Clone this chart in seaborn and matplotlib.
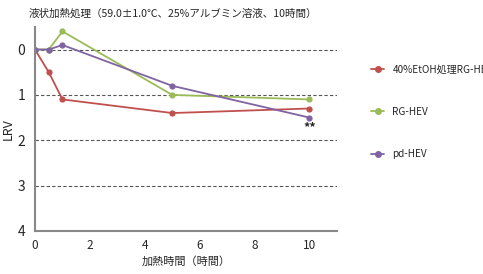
import pandas as pd
import seaborn as sns
import matplotlib.pyplot as plt

# data #######################################################################
hours = [0, 0.5, 1, 5, 10]
lrv_etoh = [0, 0.5, 1.1, 1.4, 1.3]
lrv_rg = [0, 0, -0.4, 1.0, 1.1]
lrv_pd = [0, 0, -0.1, 0.8, 1.5]
names = ['40%EtOH処理RG-HEV', 'RG-HEV', 'pd-HEV']
colors = ['#c0504d', '#9bbb59', '#8064a2']

df = pd.concat([
    pd.DataFrame({'hours': hours, 'lrv': vals, 'name': n})
    for n, vals in zip(names, [lrv_etoh, lrv_rg, lrv_pd])
], ignore_index=True)

sns.set_style('white')
plt.rcParams['font.family'] = ['Noto Sans CJK JP', 'DejaVu Sans']

fig = plt.figure(figsize=(4.83, 2.74), dpi=100)
ax = fig.add_axes([0.0725, 0.157, 0.625, 0.745])

sns.lineplot(
    data=df, x='hours', y='lrv', hue='name', hue_order=names,
    palette=colors, marker='o', markersize=4.5, markeredgewidth=0,
    linewidth=1.3, ax=ax, legend=False
)

for yv in [0, 1, 2, 3]:
    ax.axhline(yv, color='#555555', lw=0.8, ls=(0, (3, 2)), zorder=0)

ax.set_xlim(0, 11)
ax.set_ylim(4, -0.5)
ax.set_xticks([0, 2, 4, 6, 8, 10])
ax.set_yticks([0, 1, 2, 3, 4])
ax.tick_params(axis='x', direction='in', length=3, labelsize=8.5, pad=6,
               color='#888888')
ax.tick_params(axis='y', length=0, labelsize=10, pad=7)
for s in ['top', 'right']:
    ax.spines[s].set_visible(False)
for s in ['left', 'bottom']:
    ax.spines[s].set_color('#888888')
    ax.spines[s].set_linewidth(1.5)

ax.set_xlabel('加熱時間（時間）', fontsize=8, labelpad=3)
ax.set_ylabel('LRV', fontsize=9, labelpad=2)
ax.text(10, 1.72, '**', ha='center', va='center', fontsize=9,
        fontweight='bold')

fig.text(0.06, 0.952, '液状加熱処理（59.0±1.0℃、25%アルブミン溶液、10時間）',
         fontsize=7.6, ha='left', va='center')

handles = [plt.Line2D([], [], color=c, marker='o', markersize=4,
                      markevery=[1], lw=1.3) for c in colors]
fig.legend(handles, names, loc='upper left', bbox_to_anchor=(0.768, 0.765),
           frameon=False, fontsize=7.2, labelspacing=3.25, handlelength=1.35,
           handletextpad=0.8, borderpad=0, borderaxespad=0)

fig.savefig('out.png', dpi=100)
